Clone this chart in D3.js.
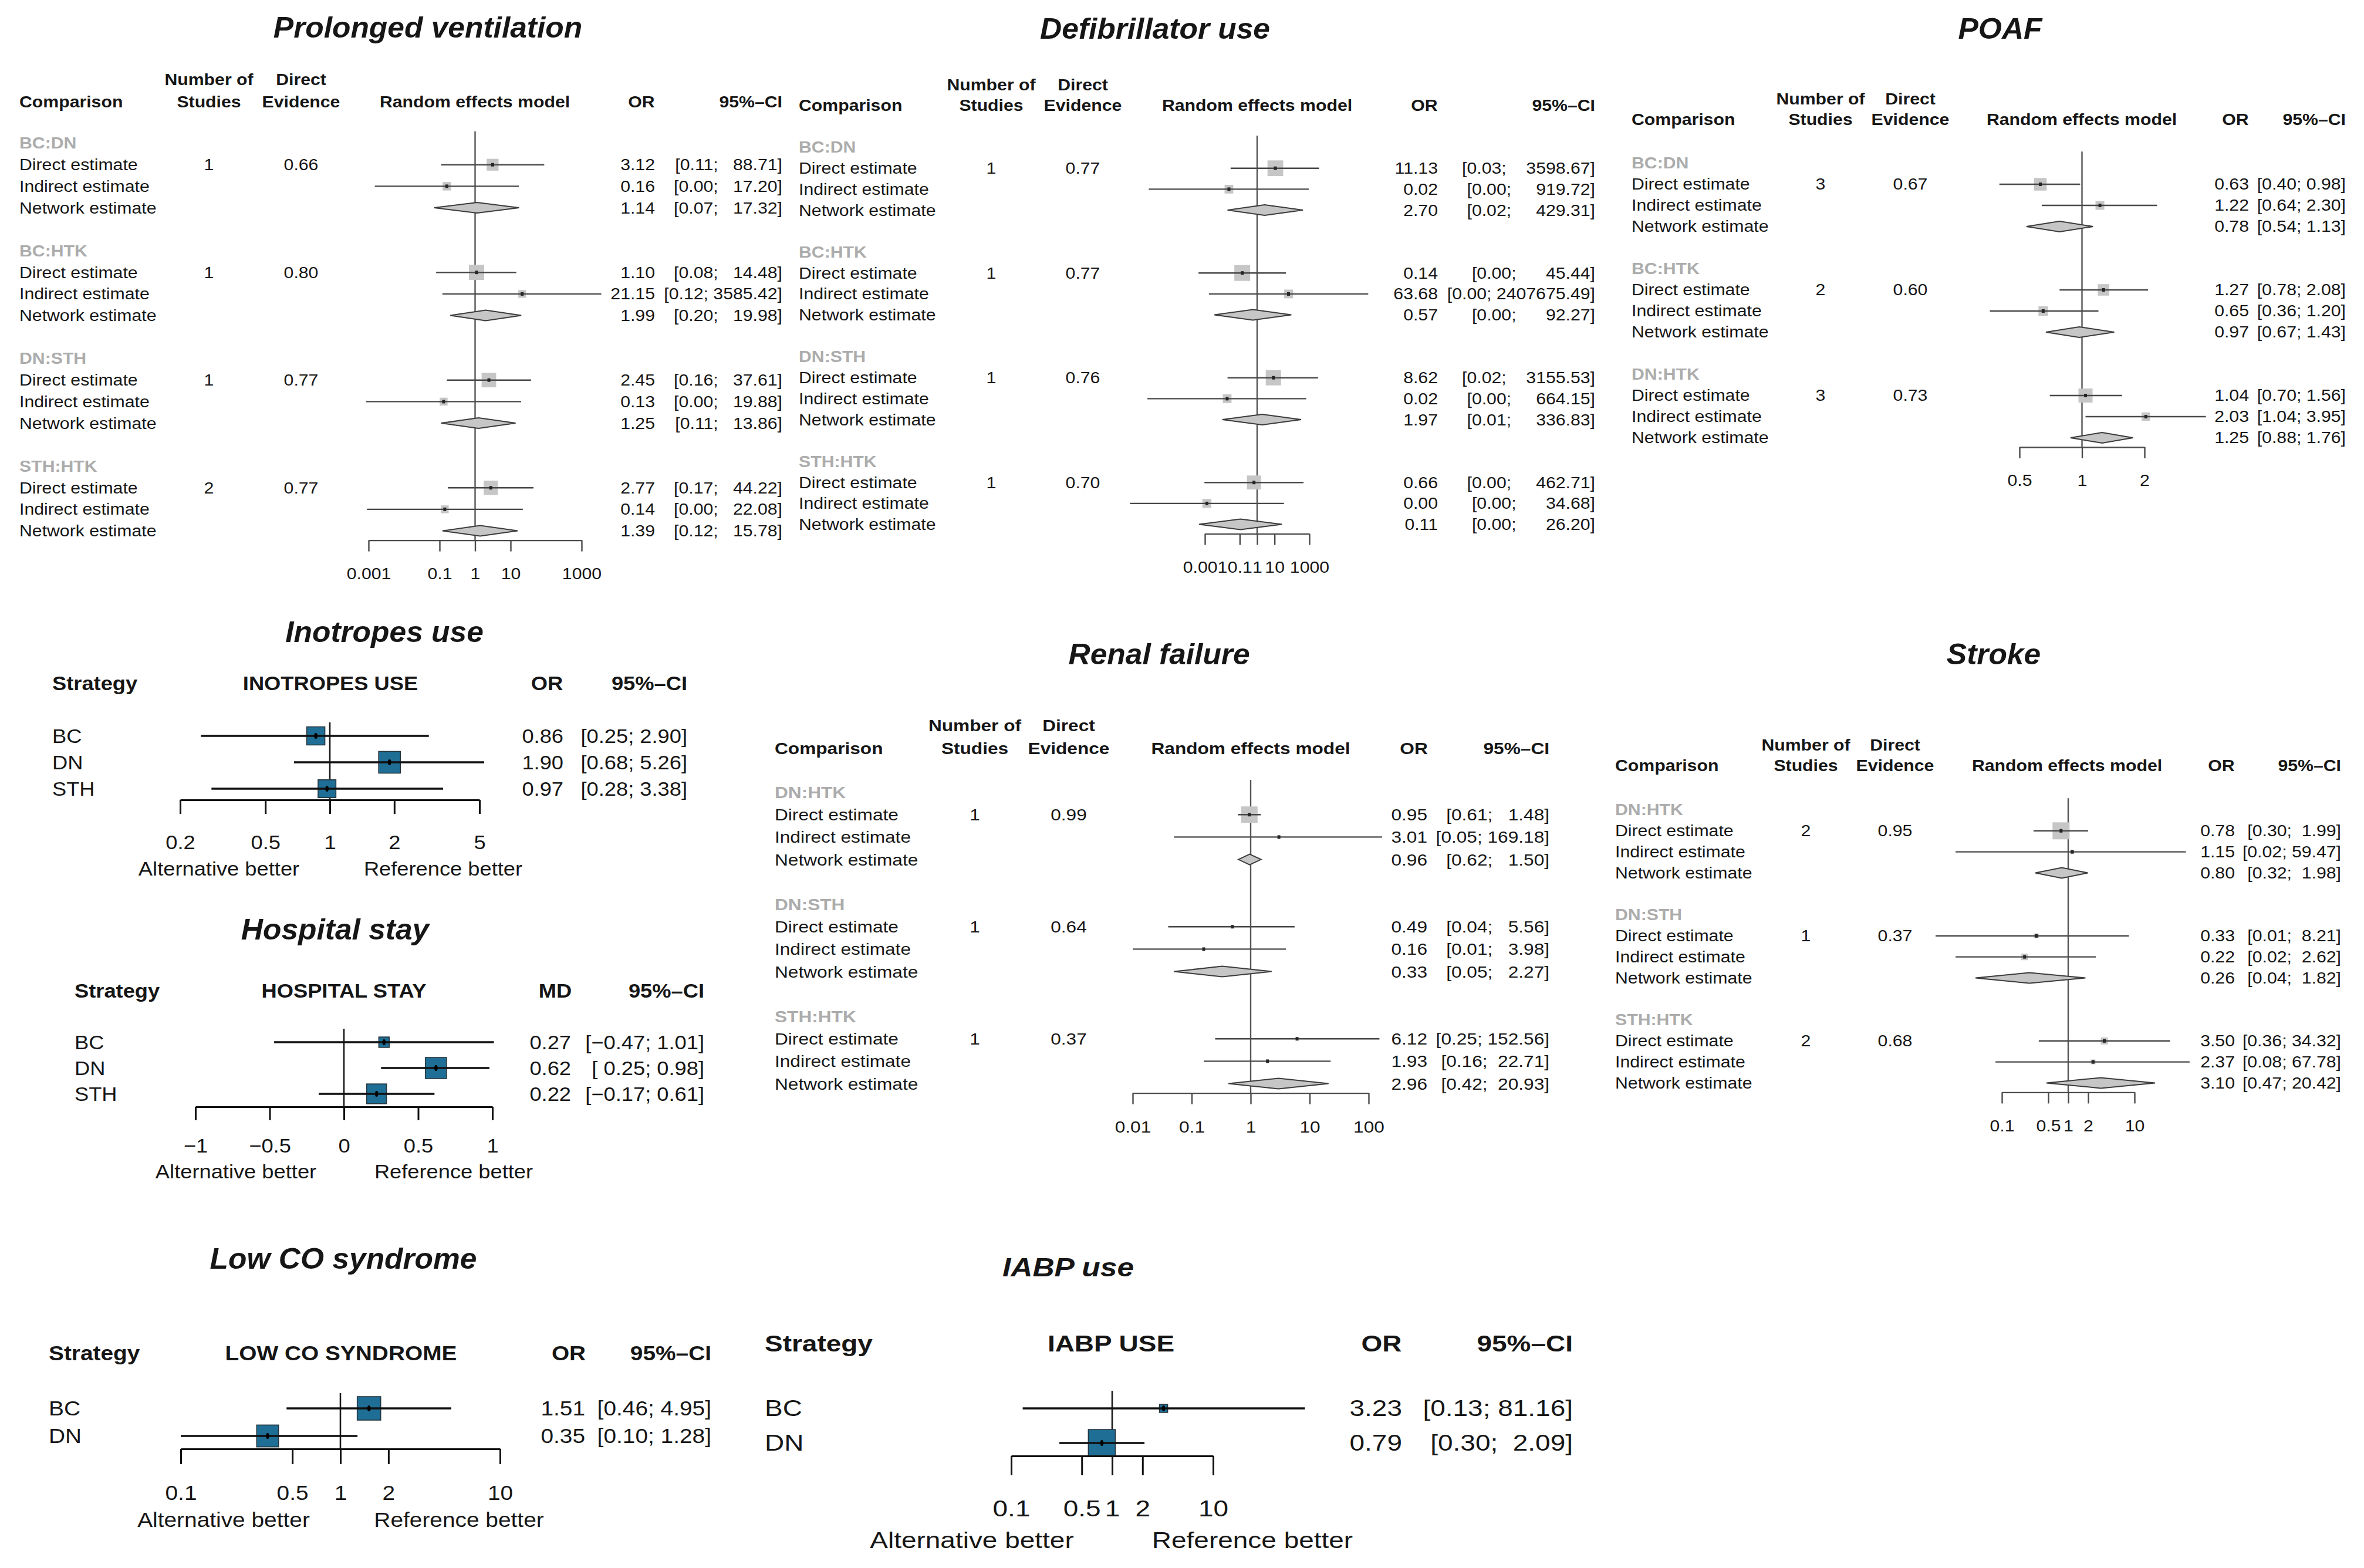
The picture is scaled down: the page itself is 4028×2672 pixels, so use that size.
<!DOCTYPE html>
<html><head><meta charset="utf-8">
<script src="https://cdn.jsdelivr.net/npm/d3@7"></script>
<style>
body{margin:0;background:#fff}
text{font-family:"Liberation Sans",Arial,Helvetica,sans-serif;white-space:pre}
</style>
</head><body>
<script>
// ---------------- DATA ----------------
// Prolonged ventilation (netsplit) — [estimate, lower, upper]
const pvComparisons = ["BC:DN","BC:HTK","DN:STH","STH:HTK"];
const pvStudies = [1,1,1,2];
const pvDirectEvidence = [0.66,0.80,0.77,0.77];
const pvDirect   = [[3.12,0.11,88.71],[1.10,0.08,14.48],[2.45,0.16,37.61],[2.77,0.17,44.22]];
const pvIndirect = [[0.16,0.0015,17.20],[21.15,0.12,3585.42],[0.13,0.00085,19.88],[0.14,0.0009,22.08]];
const pvNetwork  = [[1.14,0.07,17.32],[1.99,0.20,19.98],[1.25,0.11,13.86],[1.39,0.12,15.78]];
const pvTicks = [0.001,0.1,1,10,1000];

// Defibrillator use
const duComparisons = ["BC:DN","BC:HTK","DN:STH","STH:HTK"];
const duStudies = [1,1,1,1];
const duDirectEvidence = [0.77,0.77,0.76,0.70];
const duDirect   = [[11.13,0.03,3598.67],[0.14,0.00043,45.44],[8.62,0.02,3155.53],[0.66,0.00094,462.71]];
const duIndirect = [[0.024,6e-7,919.72],[63.68,0.0017,2407675.49],[0.019,5e-7,664.15],[0.0013,5e-8,34.68]];
const duNetwork  = [[2.70,0.02,429.31],[0.57,0.0035,92.27],[1.97,0.01,336.83],[0.11,0.00046,26.20]];
const duTicks = [0.001,0.1,1,10,1000];

// POAF
const poComparisons = ["BC:DN","BC:HTK","DN:HTK"];
const poStudies = [3,2,3];
const poDirectEvidence = [0.67,0.60,0.73];
const poDirect   = [[0.63,0.40,0.98],[1.27,0.78,2.08],[1.04,0.70,1.56]];
const poIndirect = [[1.22,0.64,2.30],[0.65,0.36,1.20],[2.03,1.04,3.95]];
const poNetwork  = [[0.78,0.54,1.13],[0.97,0.67,1.43],[1.25,0.88,1.76]];
const poTicks = [0.5,1,2];

// Renal failure
const rfComparisons = ["DN:HTK","DN:STH","STH:HTK"];
const rfStudies = [1,1,1];
const rfDirectEvidence = [0.99,0.64,0.37];
const rfDirect   = [[0.95,0.61,1.48],[0.49,0.04,5.56],[6.12,0.25,152.56]];
const rfIndirect = [[3.01,0.05,169.18],[0.16,0.01,3.98],[1.93,0.16,22.71]];
const rfNetwork  = [[0.96,0.62,1.50],[0.33,0.05,2.27],[2.96,0.42,20.93]];
const rfTicks = [0.01,0.1,1,10,100];

// Stroke
const stComparisons = ["DN:HTK","DN:STH","STH:HTK"];
const stStudies = [2,1,2];
const stDirectEvidence = [0.95,0.37,0.68];
const stDirect   = [[0.78,0.30,1.99],[0.33,0.01,8.21],[3.50,0.36,34.32]];
const stIndirect = [[1.15,0.02,59.47],[0.22,0.02,2.62],[2.37,0.08,67.78]];
const stNetwork  = [[0.80,0.32,1.98],[0.26,0.04,1.82],[3.10,0.47,20.42]];
const stTicks = [0.1,0.5,1,2,10];

// Inotropes use
const inStrategies = ["BC","DN","STH"];
const inOR = [0.86,1.90,0.97];
const inLower = [0.25,0.68,0.28];
const inUpper = [2.90,5.26,3.38];
const inTicks = [0.2,0.5,1,2,5];

// Hospital stay (mean difference)
const hsStrategies = ["BC","DN","STH"];
const hsMD = [0.27,0.62,0.22];
const hsLower = [-0.47,0.25,-0.17];
const hsUpper = [1.01,0.98,0.61];
const hsTicks = [-1,-0.5,0,0.5,1];

// Low CO syndrome
const lcStrategies = ["BC","DN"];
const lcOR = [1.51,0.35];
const lcLower = [0.46,0.10];
const lcUpper = [4.95,1.28];
const lcTicks = [0.1,0.5,1,2,10];

// IABP use
const ibStrategies = ["BC","DN"];
const ibOR = [3.23,0.79];
const ibLower = [0.13,0.30];
const ibUpper = [81.16,2.09];
const ibTicks = [0.1,0.5,1,2,10];

// ---------------- DRAWING ----------------
const W = 4028, H = 2672;
const INK = "#161616";
const svg = d3.select("body").append("svg").attr("width", W).attr("height", H).style("display","block");
svg.append("rect").attr("width", W).attr("height", H).attr("fill", "#fff");

const minus = s => s.replace(/-/g, "\u2212");
const f2 = v => minus(v.toFixed(2));

function label(g, x, y, s, o) {
  return g.append("text")
    .attr("transform", `translate(${x},${y}) scale(${o.sx || 1},1)`)
    .attr("dy", "0.35em")
    .attr("text-anchor", o.anchor || "start")
    .attr("font-size", o.fs)
    .attr("font-weight", o.bold ? "bold" : "normal")
    .attr("font-style", o.italic ? "italic" : "normal")
    .attr("fill", o.fill || INK)
    .attr("xml:space", "preserve")
    .text(s);
}

function ciStrings(los, his) {
  const L = los.map(f2), U = his.map(f2);
  const mL = d3.max(L, d => d.length), mU = d3.max(U, d => d.length);
  return L.map((l, i) => "[" + l.padStart(mL) + "; " + U[i].padStart(mU) + "]");
}

function styleAxis(ax, o) {
  ax.attr("font-size", null).attr("font-family", null);
  ax.select(".domain").attr("stroke", o.col).attr("stroke-width", o.lw);
  ax.selectAll(".tick line").attr("stroke", o.col).attr("stroke-width", o.lw);
  ax.selectAll(".tick text")
    .attr("y", o.labOff).attr("dy", "0.35em")
    .attr("font-size", o.fs).attr("fill", INK)
    .attr("transform", `scale(${o.sx},1)`);
}

// ---------- netsplit forest panels ----------
function drawNetsplit(c) {
  const g = svg.append("g");
  const T = { fs: c.fs, sx: c.sx };
  label(g, c.titleX, c.titleY, c.title, { fs: 50, sx: 1.03, bold: 1, italic: 1, anchor: "middle" });
  label(g, c.compX, c.h2, "Comparison", { ...T, bold: 1 });
  label(g, c.nX, c.h1, "Number of", { ...T, bold: 1, anchor: "middle" });
  label(g, c.nX, c.h2, "Studies", { ...T, bold: 1, anchor: "middle" });
  label(g, c.deX, c.h1, "Direct", { ...T, bold: 1, anchor: "middle" });
  label(g, c.deX, c.h2, "Evidence", { ...T, bold: 1, anchor: "middle" });
  label(g, c.remX, c.h2, "Random effects model", { ...T, bold: 1, anchor: "middle" });
  label(g, c.orRight - 23, c.h2, "OR", { ...T, bold: 1, anchor: "middle" });
  label(g, c.ciRight, c.h2, "95%\u2013CI", { ...T, bold: 1, anchor: "end" });

  const x = d3.scaleLog().domain(d3.extent(c.ticks)).range(c.range);
  const rowY = i => c.y0 + i * c.rowH;
  const kinds = [["Direct estimate", c.direct], ["Indirect estimate", c.indirect], ["Network estimate", c.network]];
  const rows = [];
  c.comps.forEach((cp, gi) => kinds.forEach((k, ki) =>
    rows.push({ gi, ki, name: k[0], v: k[1][gi], y: rowY(gi * 5 + ki + 1) })));
  const cis = ciStrings(rows.map(r => r.v[1]), rows.map(r => r.v[2]));
  const precs = rows.filter(r => r.ki < 2).map(r => 1 / Math.log(r.v[2] / r.v[1]));
  const size = d3.scaleLinear().domain([0, d3.max(precs)]).range([0, c.maxSide]);

  const lastY = rowY((c.comps.length - 1) * 5 + 3);
  const axisY = lastY + 16;
  // reference line
  g.append("line").attr("x1", x(1)).attr("x2", x(1))
    .attr("y1", c.y0 - 0.55 * c.rowH).attr("y2", axisY)
    .attr("stroke", "#555").attr("stroke-width", 2.4);

  c.comps.forEach((cp, gi) => {
    label(g, c.compX, rowY(gi * 5), cp, { ...T, bold: 1, fill: "#acacac" });
    label(g, c.nX, rowY(gi * 5 + 1), String(c.studies[gi]), { ...T, anchor: "middle" });
    label(g, c.deX, rowY(gi * 5 + 1), c.de[gi].toFixed(2), { ...T, anchor: "middle" });
  });

  rows.forEach((r, i) => {
    const [est, lo, hi] = r.v;
    label(g, c.compX, r.y, r.name, T);
    label(g, c.orRight, r.y, f2(est), { ...T, anchor: "end" });
    label(g, c.ciRight, r.y, cis[i], { ...T, anchor: "end" });
    if (r.ki < 2) {
      const s = Math.max(size(1 / Math.log(hi / lo)), 3);
      g.append("rect").attr("x", x(est) - s / 2).attr("y", r.y - s / 2)
        .attr("width", s).attr("height", s).attr("fill", "#c6c6c6");
      g.append("line").attr("x1", x(lo)).attr("x2", x(hi)).attr("y1", r.y).attr("y2", r.y)
        .attr("stroke", "#4a4a4a").attr("stroke-width", 2.4);
      g.append("rect").attr("x", x(est) - 2.5).attr("y", r.y - 3).attr("width", 5).attr("height", 6)
        .attr("fill", "#262626");
    } else {
      const h = 9;
      g.append("polygon")
        .attr("points", [[x(lo), r.y], [x(est), r.y - h], [x(hi), r.y], [x(est), r.y + h]].map(p => p.join(",")).join(" "))
        .attr("fill", "#c6c6c6").attr("stroke", "#3c3c3c").attr("stroke-width", 2);
    }
  });

  const ax = g.append("g").attr("transform", `translate(0,${axisY})`)
    .call(d3.axisBottom(x).tickValues(c.ticks).tickSize(19).tickSizeOuter(0).tickFormat(d => String(d)));
  styleAxis(ax, { col: "#4a4a4a", lw: 2.4, labOff: 57, fs: c.fs, sx: c.sx });
}

// ---------- strategy (league) forest panels ----------
function drawStrategy(c) {
  const g = svg.append("g");
  const T = { fs: c.fs, sx: c.sx };
  label(g, c.titleX, c.titleY, c.title, { fs: c.titleFs || 50, sx: c.titleSx || 1.03, bold: 1, italic: 1, anchor: "middle" });
  label(g, c.stratX, c.hY, "Strategy", { ...T, bold: 1 });
  label(g, c.headX, c.hY, c.heading, { ...T, bold: 1, anchor: "middle" });
  label(g, c.effX, c.hY, c.effLabel, { ...T, bold: 1, anchor: "middle" });
  label(g, c.ciRight, c.hY, "95%\u2013CI", { ...T, bold: 1, anchor: "end" });

  const x = c.linear
    ? d3.scaleLinear().domain(d3.extent(c.ticks)).range(c.range)
    : d3.scaleLog().domain(d3.extent(c.ticks)).range(c.range);
  const ref = c.linear ? 0 : 1;
  const rowY = i => c.y0 + i * c.step;
  const width = (lo, hi) => c.linear ? hi - lo : Math.log(hi / lo);
  const precs = c.est.map((e, i) => 1 / width(c.lo[i], c.hi[i]));
  const size = d3.scaleLinear().domain([0, d3.max(precs)]).range([0, c.maxSide]);
  const cis = ciStrings(c.lo, c.hi);

  g.append("line").attr("x1", x(ref)).attr("x2", x(ref))
    .attr("y1", c.refTop).attr("y2", c.axisY)
    .attr("stroke", "#1a1a1a").attr("stroke-width", 2.6);

  c.names.forEach((nm, i) => {
    const y = rowY(i), e = c.est[i], lo = c.lo[i], hi = c.hi[i];
    label(g, c.stratX, y, nm, T);
    label(g, c.orRight, y, f2(e), { ...T, anchor: "end" });
    label(g, c.ciRight, y, cis[i], { ...T, anchor: "end" });
    const s = size(precs[i]);
    g.append("rect").attr("x", x(e) - s / 2).attr("y", y - s / 2).attr("width", s).attr("height", s)
      .attr("fill", "#1f6e96").attr("stroke", "#27363d").attr("stroke-width", 1.6);
    g.append("line").attr("x1", x(lo)).attr("x2", x(hi)).attr("y1", y).attr("y2", y)
      .attr("stroke", "#111").attr("stroke-width", 3.4);
    g.append("ellipse").attr("cx", x(e)).attr("cy", y).attr("rx", 2.8).attr("ry", 5).attr("fill", "#000");
  });

  const ax = g.append("g").attr("transform", `translate(0,${c.axisY})`)
    .call(d3.axisBottom(x).tickValues(c.ticks).tickSize(c.tickLen).tickSizeOuter(0).tickFormat(d => minus(String(d))));
  styleAxis(ax, { col: "#111", lw: 3, labOff: c.labOff, fs: c.fs, sx: c.sx });

  label(g, c.altX, c.axisY + c.altOff, "Alternative better", { ...T, anchor: "middle" });
  label(g, c.refX, c.axisY + c.altOff, "Reference better", { ...T, anchor: "middle" });
}

// ---------- panel layouts ----------
drawNetsplit({ title: "Prolonged ventilation", titleX: 729, titleY: 46, fs: 27, sx: 1.12,
  comps: pvComparisons, studies: pvStudies, de: pvDirectEvidence,
  direct: pvDirect, indirect: pvIndirect, network: pvNetwork, ticks: pvTicks,
  compX: 33, nX: 356, deX: 513, remX: 809, orRight: 1116, ciRight: 1333,
  h1: 136, h2: 174, y0: 244, rowH: 36.7, range: [628, 991], maxSide: 26 });

drawNetsplit({ title: "Defibrillator use", titleX: 1968, titleY: 48, fs: 27, sx: 1.12,
  comps: duComparisons, studies: duStudies, de: duDirectEvidence,
  direct: duDirect, indirect: duIndirect, network: duNetwork, ticks: duTicks,
  compX: 1361, nX: 1689, deX: 1845, remX: 2142, orRight: 2450, ciRight: 2718,
  h1: 145, h2: 180, y0: 251, rowH: 35.7, range: [2053, 2231], maxSide: 27 });

drawNetsplit({ title: "POAF", titleX: 3408, titleY: 48, fs: 27, sx: 1.12,
  comps: poComparisons, studies: poStudies, de: poDirectEvidence,
  direct: poDirect, indirect: poIndirect, network: poNetwork, ticks: poTicks,
  compX: 2780, nX: 3102, deX: 3255, remX: 3547, orRight: 3832, ciRight: 3997,
  h1: 169, h2: 204, y0: 278, rowH: 36, range: [3441, 3654], maxSide: 24 });

drawNetsplit({ title: "Renal failure", titleX: 1975, titleY: 1114, fs: 28.5, sx: 1.11,
  comps: rfComparisons, studies: rfStudies, de: rfDirectEvidence,
  direct: rfDirect, indirect: rfIndirect, network: rfNetwork, ticks: rfTicks,
  compX: 1320, nX: 1661, deX: 1821, remX: 2131, orRight: 2432, ciRight: 2640,
  h1: 1236, h2: 1275, y0: 1350, rowH: 38.2, range: [1930, 2332], maxSide: 28 });

drawNetsplit({ title: "Stroke", titleX: 3397, titleY: 1114, fs: 27, sx: 1.12,
  comps: stComparisons, studies: stStudies, de: stDirectEvidence,
  direct: stDirect, indirect: stIndirect, network: stNetwork, ticks: stTicks,
  compX: 2752, nX: 3077, deX: 3229, remX: 3522, orRight: 3808, ciRight: 3989,
  h1: 1270, h2: 1305, y0: 1380, rowH: 35.8, range: [3411, 3637], maxSide: 29 });

drawStrategy({ title: "Inotropes use", titleX: 655, titleY: 1076, fs: 33, sx: 1.1,
  names: inStrategies, est: inOR, lo: inLower, hi: inUpper, ticks: inTicks,
  stratX: 89, heading: "INOTROPES USE", headX: 563, effLabel: "OR", effX: 932, ciRight: 1171,
  hY: 1164, y0: 1254, step: 45, orRight: 960, range: [307, 817],
  axisY: 1363, tickLen: 24, labOff: 72, altOff: 117, altX: 373, refX: 755, maxSide: 37, refTop: 1231 });

drawStrategy({ title: "Hospital stay", titleX: 571, titleY: 1583, fs: 33, sx: 1.1, linear: true,
  names: hsStrategies, est: hsMD, lo: hsLower, hi: hsUpper, ticks: hsTicks,
  stratX: 127, heading: "HOSPITAL STAY", headX: 586, effLabel: "MD", effX: 946, ciRight: 1200,
  hY: 1688, y0: 1776, step: 44, orRight: 973, range: [333, 839],
  axisY: 1886, tickLen: 23, labOff: 66, altOff: 110, altX: 402, refX: 773, maxSide: 36, refTop: 1753 });

drawStrategy({ title: "Low CO syndrome", titleX: 585, titleY: 2144, fs: 35, sx: 1.11,
  names: lcStrategies, est: lcOR, lo: lcLower, hi: lcUpper, ticks: lcTicks,
  stratX: 83, heading: "LOW CO SYNDROME", headX: 581, effLabel: "OR", effX: 969, ciRight: 1212,
  hY: 2306, y0: 2400, step: 47, orRight: 997, range: [308, 852],
  axisY: 2469, tickLen: 26, labOff: 75, altOff: 121, altX: 381, refX: 782, maxSide: 40, refTop: 2374 });

drawStrategy({ title: "IABP use", titleX: 1820, titleY: 2160, titleFs: 44, titleSx: 1.17, fs: 38, sx: 1.21,
  names: ibStrategies, est: ibOR, lo: ibLower, hi: ibUpper, ticks: ibTicks,
  stratX: 1303, heading: "IABP USE", headX: 1893, effLabel: "OR", effX: 2354, ciRight: 2680,
  hY: 2290, y0: 2400, step: 59, orRight: 2389, range: [1723, 2067],
  axisY: 2481, tickLen: 33, labOff: 90, altOff: 144, altX: 1656, refX: 2134, maxSide: 46, refTop: 2370 });
</script>
</body></html>
